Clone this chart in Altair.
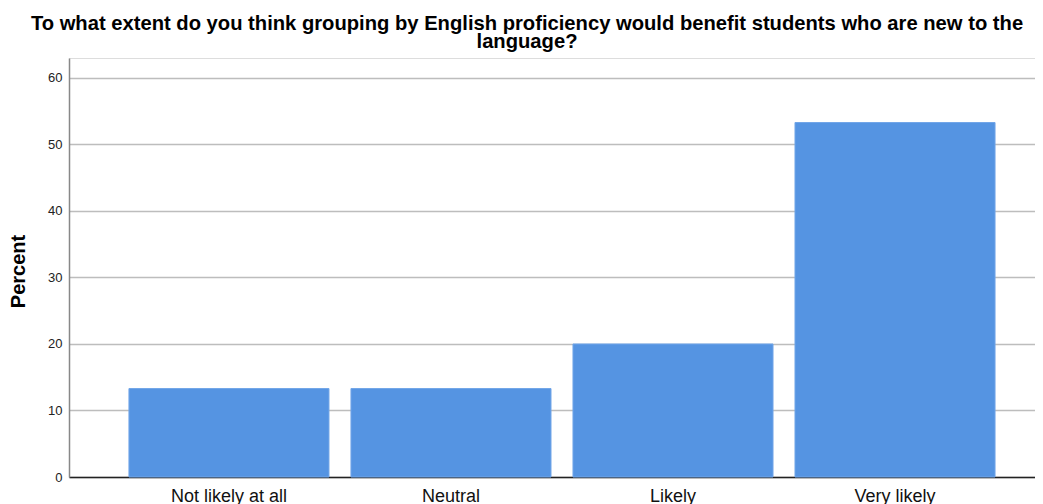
import altair as alt
import pandas as pd

categories = ["Not likely at all", "Neutral", "Likely", "Very likely"]
percents = [13.3, 13.3, 20.0, 53.3]
y_ticks = [0, 10, 20, 30, 40, 50, 60]
title_lines = [
    "To what extent do you think grouping by English proficiency would benefit students who are new to the",
    "language?",
]

df = pd.DataFrame({"category": categories, "percent": percents})

FONT = "Liberation Sans"

chart = (
    alt.Chart(df)
    .mark_bar(color="#5594E2", stroke="#72A6E8", strokeWidth=1)
    .encode(
        x=alt.X(
            "category:N",
            sort=categories,
            scale=alt.Scale(paddingInner=0.099, paddingOuter=0.225, align=0.6),
            axis=alt.Axis(
                title=None,
                labelAngle=0,
                labelFont=FONT,
                labelFontSize=18,
                labelColor="#111111",
                labelPadding=10,
                ticks=False,
                domainColor="#222222",
                domainWidth=1.5,
                grid=False,
            ),
        ),
        y=alt.Y(
            "percent:Q",
            scale=alt.Scale(domain=[0, 63], nice=False),
            axis=alt.Axis(
                title="Percent",
                titleFont=FONT,
                titleFontSize=20,
                titleFontWeight="bold",
                titleColor="#000000",
                titleAngle=270,
                titleX=-45,
                titleY=213,
                titleAlign="center",
                titleBaseline="alphabetic",
                values=y_ticks,
                labelFont=FONT,
                labelFontSize=13,
                labelColor="#222222",
                labelPadding=7,
                ticks=False,
                domainColor="#888888",
                domainWidth=1.5,
                grid=True,
                gridColor="#BDBDBD",
                gridWidth=1.5,
            ),
        ),
    )
    .properties(
        width=966,
        height=419,
        title=alt.TitleParams(
            text=title_lines,
            font=FONT,
            fontSize=20.2,
            fontWeight="bold",
            color="#000000",
            anchor="middle",
            frame="group",
            dx=-25,
            dy=-2,
            lineHeight=18,
        ),
        autosize=alt.AutoSizeParams(type="none"),
        padding={"left": 61, "top": 50, "right": 0, "bottom": 27},
    )
    .configure_view(stroke=None)
    .configure(background="white")
)

chart.save("out.html", embed_options={"renderer": "svg", "actions": False})
